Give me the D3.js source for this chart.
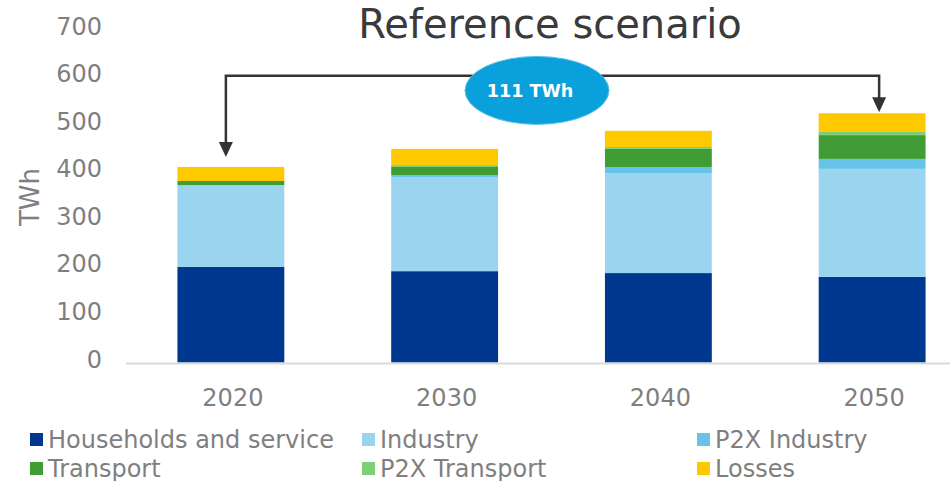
<!DOCTYPE html>
<html>
<head>
<meta charset="utf-8">
<script src="https://cdn.jsdelivr.net/npm/d3@7"></script>
<style>
  html, body { margin: 0; padding: 0; background: #fff; }
  svg { display: block; font-family: "DejaVu Sans", Verdana, sans-serif; }
</style>
</head>
<body>
<svg id="chart" width="950" height="481"></svg>
<script>
// ---- data ----
const years = ["2020", "2030", "2040", "2050"];
const households = [201, 192, 188, 180];
const industry = [172, 198, 210, 227];
const p2xIndustry = [0, 4, 13, 21];
const transport = [8.5, 17, 38, 50];
const p2xTransport = [0, 4, 4, 8];
const losses = [29.5, 34, 34, 38];
const seriesNames = ["Households and service", "Industry", "P2X Industry", "Transport", "P2X Transport", "Losses"];
const yTicks = [0, 100, 200, 300, 400, 500, 600, 700];
const titleText = "Reference scenario";
const yLabel = "TWh";
const annotationText = "111 TWh";

// ---- layout ----
const colors = ["#00378f", "#9bd4ef", "#66c4e9", "#409c35", "#7fcf78", "#ffc900"];
const seriesValues = [households, industry, p2xIndustry, transport, p2xTransport, losses];
const rows = years.map((y, i) => {
  const r = { year: y };
  seriesNames.forEach((s, k) => r[s] = seriesValues[k][i]);
  return r;
});

const svg = d3.select("#chart");
const x = d3.scaleBand().domain(years).range([124, 979]).paddingInner(0.5).paddingOuter(0.25);
const y = d3.scaleLinear().domain([0, 700]).range([362.5, 29.5]);

const stack = d3.stack().keys(seriesNames);
const stacked = stack(rows);

// bars
svg.append("g").selectAll("g")
  .data(stacked).join("g")
  .attr("fill", (d, i) => colors[i])
  .selectAll("rect")
  .data(d => d).join("rect")
  .attr("x", d => x(d.data.year))
  .attr("width", x.bandwidth())
  .attr("y", d => y(d[1]))
  .attr("height", d => Math.max(0, y(d[0]) - y(d[1])));

// x axis line
svg.append("line")
  .attr("x1", 126).attr("x2", 950)
  .attr("y1", y(0) + 1).attr("y2", y(0) + 1)
  .attr("stroke", "#d9d9d9").attr("stroke-width", 2);

// x axis labels
const xAxis = d3.axisBottom(x).tickSize(0).tickPadding(0);
const gx = svg.append("g").attr("transform", `translate(2,${y(0)})`).call(xAxis);
gx.select(".domain").remove();
gx.selectAll("text")
  .attr("dy", null).attr("y", 43.5)
  .attr("font-size", 24).attr("fill", "#7f7f7f")
  .attr("font-family", "DejaVu Sans, Verdana, sans-serif");

// y axis labels
const yAxis = d3.axisLeft(y).tickValues(yTicks).tickSize(0).tickPadding(0);
const gy = svg.append("g").attr("transform", "translate(102,0)").call(yAxis);
gy.select(".domain").remove();
gy.selectAll("text")
  .attr("dy", null).attr("y", 4.5)
  .attr("font-size", 24).attr("fill", "#7f7f7f")
  .attr("font-family", "DejaVu Sans, Verdana, sans-serif");

// y label
svg.append("text")
  .attr("transform", `translate(39,197) rotate(-90)`)
  .attr("text-anchor", "middle")
  .attr("font-size", 26).attr("fill", "#7f7f7f")
  .text(yLabel);

// title
svg.append("text")
  .attr("x", 550).attr("y", 37.5)
  .attr("text-anchor", "middle")
  .attr("font-size", 40).attr("fill", "#3a3a3a")
  .text(titleText);

// annotation arrows
const totals = rows.map(r => d3.sum(seriesNames, s => r[s]));
const lineY = y(603);
const leftX = x(years[0]) + x.bandwidth() / 2 - 5;
const rightX = x(years[3]) + x.bandwidth() / 2 + 7;
const leftTip = y(totals[0]) - 10;
const rightTip = y(totals[3]) - 1;
const arrowCol = "#333333";

svg.append("path")
  .attr("d", `M${leftX},${leftTip - 14} V${lineY} H${rightX} V${rightTip - 14}`)
  .attr("fill", "none").attr("stroke", arrowCol).attr("stroke-width", 2.5);
[[leftX, leftTip], [rightX, rightTip]].forEach(([ax, tip]) => {
  svg.append("path")
    .attr("d", `M${ax - 7},${tip - 15} L${ax + 7},${tip - 15} L${ax},${tip} Z`)
    .attr("fill", arrowCol);
});

// ellipse
svg.append("ellipse")
  .attr("cx", 537).attr("cy", y(572))
  .attr("rx", 72).attr("ry", 34)
  .attr("fill", "#0aa0db")
  .attr("stroke", "#5bbfe6").attr("stroke-width", 1);
svg.append("text")
  .attr("x", 530).attr("y", y(572) + 6.5)
  .attr("text-anchor", "middle")
  .attr("font-size", 17.5).attr("font-weight", "bold").attr("fill", "#ffffff")
  .text(annotationText);

// legend
const legendPos = [[30, 433], [362, 433], [697, 433], [30, 462], [362, 462], [697, 462]];
const lg = svg.append("g");
seriesNames.forEach((name, i) => {
  const [lx, ly] = legendPos[i];
  lg.append("rect").attr("x", lx).attr("y", ly).attr("width", 13).attr("height", 13).attr("fill", colors[i]);
  lg.append("text").attr("x", lx + 18).attr("y", ly + 14.5)
    .attr("font-size", 24).attr("fill", "#7f7f7f")
    .text(name);
});
</script>
</body>
</html>
